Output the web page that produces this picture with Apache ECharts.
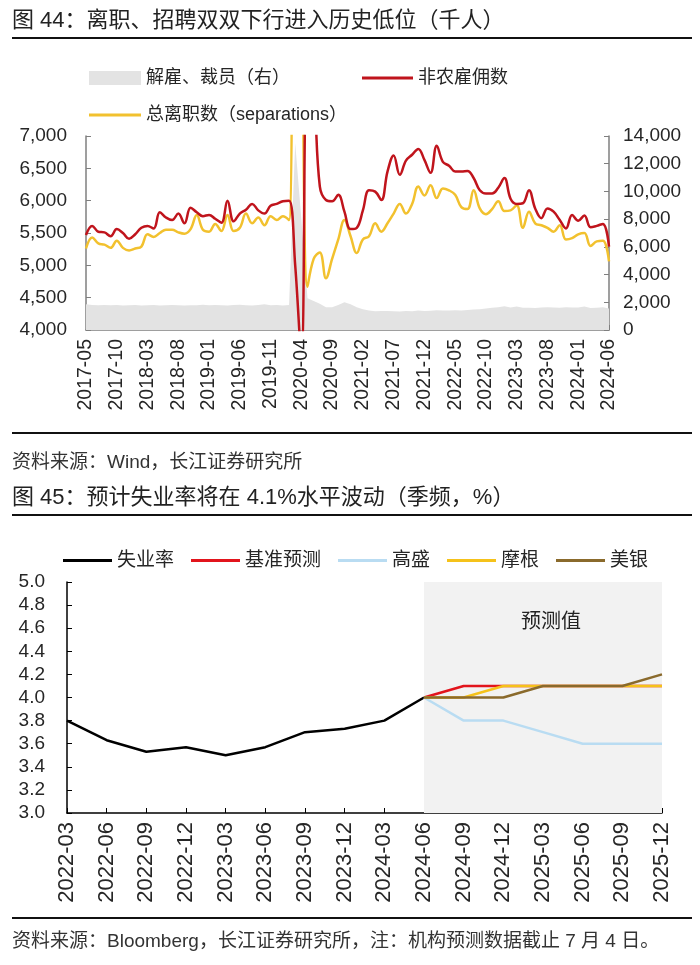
<!DOCTYPE html>
<html><head><meta charset="utf-8">
<script src="https://cdn.jsdelivr.net/npm/echarts@6/dist/echarts.min.js"></script>
<style>html,body{margin:0;padding:0;background:#fff}#c{width:700px;height:965px}</style>
</head><body><div id="c"></div>
<script>
// ---- Figure 44 data (monthly, thousands) ----
const months = [];
for (let y = 2017, m = 5; y < 2024 || (y === 2024 && m <= 6);) {
  months.push(y + '-' + String(m).padStart(2, '0'));
  m++; if (m > 12) { m = 1; y++; }
}
const hires = [5470,5610,5520,5510,5450,5560,5500,5410,5480,5580,5610,5570,5820,5740,5700,5800,5650,5890,5820,5760,
  5780,5720,5660,6000,5680,5800,5860,5950,5850,5800,5920,5950,5990,6000,5000,3600,8200,7700,6220,6010,
  5990,6090,5830,5560,5580,5850,6160,6140,6010,6450,6700,6400,6620,6710,6800,6630,6430,6850,6600,6540,
  6450,6450,6460,6350,6160,6110,6110,6200,6350,6030,5950,5960,6160,5880,5730,5880,5830,5700,5570,5780,
  5690,5770,5590,5610,5640,5290];
const separations = [5260,5430,5340,5320,5270,5380,5270,5230,5260,5290,5480,5440,5500,5550,5550,5510,5490,5560,5780,5550,
  5520,5640,5530,5780,5530,5580,5800,5650,5740,5620,5760,5700,5760,5700,14500,10000,4670,5100,5200,4800,
  5100,5400,5700,5450,5190,5400,5450,5650,5520,5650,5800,5950,5800,5950,6220,6080,6240,6040,6190,6160,
  6090,5900,5870,6160,5880,5790,5870,5990,5840,5850,5930,5580,5830,5650,5620,5580,5520,5620,5400,5420,
  5480,5500,5300,5370,5380,5060];
const layoffs = [1850,1800,1790,1810,1780,1800,1770,1790,1810,1760,1780,1800,1770,1780,1800,1780,1760,1790,1780,1830,
  1780,1800,1790,1760,1800,1820,1780,1770,1800,1850,1780,1800,1770,1800,13500,8000,2300,2100,1900,1650,
  1650,1800,2000,1850,1650,1500,1400,1350,1380,1380,1360,1340,1380,1360,1400,1370,1390,1430,1410,1400,
  1430,1410,1450,1480,1500,1560,1600,1650,1720,1620,1700,1600,1600,1580,1620,1650,1630,1600,1640,1620,
  1620,1700,1580,1600,1650,1550];

// ---- Figure 45 data (quarterly, %) ----
const quarters = ['2022-03','2022-06','2022-09','2022-12','2023-03','2023-06','2023-09','2023-12',
  '2024-03','2024-06','2024-09','2024-12','2025-03','2025-06','2025-09','2025-12'];
const unemployment = [3.8,3.63,3.53,3.57,3.5,3.57,3.7,3.73,3.8,4.0,null,null,null,null,null,null];
const baseline = [null,null,null,null,null,null,null,null,null,4.0,4.1,4.1,4.1,4.1,4.1,4.1];
const goldman  = [null,null,null,null,null,null,null,null,null,4.0,3.8,3.8,3.7,3.6,3.6,3.6];
const jpmorgan = [null,null,null,null,null,null,null,null,null,4.0,4.0,4.1,4.1,4.1,4.1,4.1];
const bofa     = [null,null,null,null,null,null,null,null,null,4.0,4.0,4.0,4.1,4.1,4.1,4.2];

const FONT = '"Liberation Sans", Arial, "Noto Sans CJK SC", sans-serif';
const TXT = '#262626';
const chart = echarts.init(document.getElementById('c'), null, {renderer: 'canvas'});

const lineSeries = (name, data, color, xi, yi, z, smooth) => ({
  name, type: 'line', data, xAxisIndex: xi, yAxisIndex: yi, symbol: 'none', smooth: smooth,
  lineStyle: {color, width: 2.5}, itemStyle: {color}, z, clip: true
});

const option = {
  animation: false,
  textStyle: {fontFamily: FONT},
  grid: [
    {left: 86, top: 136, width: 523, height: 194},
    {left: 67, top: 582, width: 595, height: 231}
  ],
  legend: [
    {data: ['解雇、裁员（右）'], left: 84, top: 64, icon: 'rect', itemWidth: 52, itemHeight: 14, itemGap: 10,
     textStyle: {fontSize: 18, color: TXT, fontFamily: FONT}},
    {data: ['非农雇佣数'], left: 357, top: 64, icon: 'rect', itemWidth: 51, itemHeight: 3,
     textStyle: {fontSize: 18, color: TXT, fontFamily: FONT}},
    {data: ['总离职数（separations）'], left: 84, top: 101, icon: 'rect', itemWidth: 52, itemHeight: 3,
     textStyle: {fontSize: 18, color: TXT, fontFamily: FONT}},
    {data: ['失业率','基准预测','高盛','摩根','美银'], left: 58, top: 546, icon: 'rect', itemWidth: 49, itemHeight: 3,
     itemGap: 17, textStyle: {fontSize: 19, color: TXT, fontFamily: FONT}}
  ],
  xAxis: [
    {gridIndex: 0, type: 'category', data: months, boundaryGap: false,
     axisLine: {lineStyle: {color: '#7f7f7f', width: 1.5}},
     axisTick: {inside: true, interval: 4, length: 5, lineStyle: {color: '#7f7f7f'}},
     axisLabel: {interval: 4, rotate: 90, fontSize: 19.5, color: TXT, margin: 9, fontFamily: FONT}},
    {gridIndex: 1, type: 'category', data: quarters, boundaryGap: false,
     axisLine: {lineStyle: {color: '#000', width: 1.5}},
     axisTick: {inside: true, length: 5, lineStyle: {color: '#000'}},
     axisLabel: {interval: 0, rotate: 90, fontSize: 22, color: TXT, margin: 9, fontFamily: FONT}}
  ],
  yAxis: [
    {gridIndex: 0, type: 'value', min: 4000, max: 7000, interval: 500, position: 'left',
     axisLine: {show: true, lineStyle: {color: '#7f7f7f', width: 1.5}},
     axisTick: {show: true, inside: true, length: 5, lineStyle: {color: '#7f7f7f'}},
     splitLine: {show: false},
     axisLabel: {formatter: v => v.toLocaleString('en-US'), fontSize: 19, color: TXT, margin: 19, fontFamily: FONT}},
    {gridIndex: 0, type: 'value', min: 0, max: 14000, interval: 2000, position: 'right',
     axisLine: {show: true, lineStyle: {color: '#7f7f7f', width: 1.5}},
     axisTick: {show: true, inside: true, length: 5, lineStyle: {color: '#7f7f7f'}},
     splitLine: {show: false},
     axisLabel: {formatter: v => v.toLocaleString('en-US'), fontSize: 19, color: TXT, margin: 14, fontFamily: FONT}},
    {gridIndex: 1, type: 'value', min: 3, max: 5, interval: 0.2,
     axisLine: {show: true, lineStyle: {color: '#000', width: 1.5}},
     axisTick: {show: true, inside: true, length: 5, lineStyle: {color: '#000'}},
     splitLine: {show: false},
     axisLabel: {formatter: v => v.toFixed(1), fontSize: 19, color: TXT, margin: 22, fontFamily: FONT}}
  ],
  series: [
    {name: '解雇、裁员（右）', type: 'line', data: layoffs, xAxisIndex: 0, yAxisIndex: 1, symbol: 'none',
     lineStyle: {width: 0}, areaStyle: {color: '#e3e3e3', opacity: 1}, itemStyle: {color: '#e3e3e3'}, z: 1},
    lineSeries('总离职数（separations）', separations, '#f2c12e', 0, 0, 2, 0.4),
    lineSeries('非农雇佣数', hires, '#c0141c', 0, 0, 3, 0.4),
    Object.assign(lineSeries('失业率', unemployment, '#000000', 1, 2, 2, false), {
      markArea: {silent: true, itemStyle: {color: '#f2f2f2'},
        label: {show: true, position: 'insideTop', distance: 30, offset: [8, 0], formatter: '预测值', fontSize: 20, color: '#222', fontFamily: FONT},
        data: [[{xAxis: '2024-06'}, {xAxis: '2025-12'}]]}
    }),
    lineSeries('基准预测', baseline, '#e2141c', 1, 2, 3, false),
    lineSeries('高盛', goldman, '#b9dcf2', 1, 2, 3, false),
    lineSeries('摩根', jpmorgan, '#f5c21a', 1, 2, 4, false),
    lineSeries('美银', bofa, '#8a6a2c', 1, 2, 5, false)
  ],
  graphic: [
    {type: 'text', left: 12, top: 10, style: {text: '图 44：离职、招聘双双下行进入历史低位（千人）', fontSize: 22, fontFamily: FONT, fill: '#222'}},
    {type: 'line', shape: {x1: 12, y1: 38, x2: 692, y2: 38}, style: {stroke: '#111', lineWidth: 2}},
    {type: 'line', shape: {x1: 12, y1: 433, x2: 692, y2: 433}, style: {stroke: '#111', lineWidth: 2}},
    {type: 'text', left: 12, top: 453, style: {text: '资料来源：Wind，长江证券研究所', fontSize: 19, fontFamily: FONT, fill: '#333'}},
    {type: 'text', left: 12, top: 487, style: {text: '图 45：预计失业率将在 4.1%水平波动（季频，%）', fontSize: 22, fontFamily: FONT, fill: '#222'}},
    {type: 'line', shape: {x1: 12, y1: 515, x2: 692, y2: 515}, style: {stroke: '#111', lineWidth: 2}},
    {type: 'line', shape: {x1: 12, y1: 918, x2: 692, y2: 918}, style: {stroke: '#111', lineWidth: 2}},
    {type: 'text', left: 12, top: 932, style: {text: '资料来源：Bloomberg，长江证券研究所，注：机构预测数据截止 7 月 4 日。', fontSize: 19, fontFamily: FONT, fill: '#333'}}
  ]
};
chart.setOption(option);
</script></body></html>
